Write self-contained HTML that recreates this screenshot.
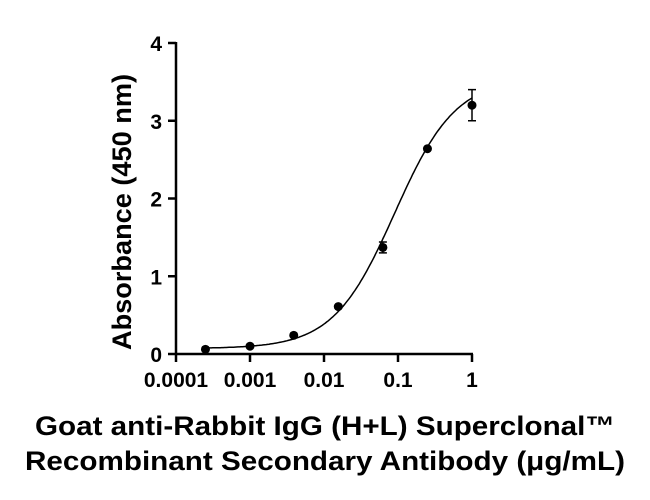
<!DOCTYPE html>
<html><head><meta charset="utf-8"><style>
body{margin:0;background:#fff;}
svg{display:block;font-family:"Liberation Sans",Arial,sans-serif;font-weight:bold;}
</style></head><body>
<svg width="650" height="500">
<g id="g"></g>
</svg>
<script>
const concs=[0.00025,0.001,0.0039,0.0156,0.0625,0.25,1];
const absorb=[0.06,0.10,0.24,0.61,1.37,2.64,3.20];
const errs=[0.01,0.01,0.01,0.02,0.07,0.02,0.2];
const fitParams=[0.07,3.55,0.09,1.05];
const yTicks=[0,1,2,3,4];
const xTicks=[0.0001,0.001,0.01,0.1,1];
const xTickLabels=["0.0001","0.001","0.01","0.1","1"];
const ns="http://www.w3.org/2000/svg";
const g=document.getElementById('g');
const X0=176,Y0=354,PXD=74,PXU=77.75;
const xs=v=>X0+(Math.log10(v)+4)*PXD;
const ys=v=>Y0-v*PXU;
function mk(t,a,p){const e=document.createElementNS(ns,t);for(const k in a)e.setAttribute(k,a[k]);(p||g).appendChild(e);return e;}
let e;
e=mk('line',{x1:X0,y1:ys(4)-1,x2:X0,y2:Y0,stroke:'#000','stroke-width':2.5});


e=mk('line',{x1:X0,y1:Y0,x2:xs(1)+1,y2:Y0,stroke:'#000','stroke-width':2.5});


yTicks.forEach(v=>{
 e=mk('line',{x1:X0-8,y1:ys(v),x2:X0,y2:ys(v),stroke:'#000','stroke-width':2.5});
 
 
 e=mk('text',{x:X0-14,y:ys(v)+8,'text-anchor':'end','font-size':21});
 e.textContent=v;
 
 
});
xTicks.forEach((v,i)=>{
 e=mk('line',{x1:xs(v),y1:Y0,x2:xs(v),y2:Y0+8,stroke:'#000','stroke-width':2.5});
 
 
 e=mk('text',{x:xs(v),y:Y0+33,'text-anchor':'middle','font-size':21});
 e.textContent=xTickLabels[i];
 
 
});
const [b,t,ec,h]=fitParams;
let d='';
for(let l=Math.log10(concs[0]);l<=0.0001;l+=0.02){
 const v=b+(t-b)/(1+Math.pow(Math.pow(10,l)/ec,-h));
 d+=(d?'L':'M')+(X0+(l+4)*PXD).toFixed(1)+','+ys(v).toFixed(1);
}
e=mk('path',{d:d,fill:'none',stroke:'#000','stroke-width':1.5});


concs.forEach((c,i)=>{
 const x=xs(c);
 if(errs[i]>0.03){
  e=mk('path',{d:`M${x},${ys(absorb[i]+errs[i])}V${ys(absorb[i]-errs[i])}M${x-4},${ys(absorb[i]+errs[i])}h8M${x-4},${ys(absorb[i]-errs[i])}h8`,stroke:'#000','stroke-width':1.5,fill:'none'});
  
  
 }
 e=mk('circle',{cx:x,cy:ys(absorb[i]),r:4.5,fill:'#000'});
 
 
});
e=mk('text',{x:0,y:0,'text-anchor':'middle','font-size':27,textLength:276,lengthAdjust:'spacingAndGlyphs',transform:`translate(131,212) rotate(-90)`});
e.textContent='Absorbance (450 nm)';


e=mk('text',{x:325,y:435,'text-anchor':'middle','font-size':27,textLength:580,lengthAdjust:'spacingAndGlyphs'});
e.textContent='Goat anti-Rabbit IgG (H+L) Superclonal™';


e=mk('text',{x:325,y:470,'text-anchor':'middle','font-size':27,textLength:600,lengthAdjust:'spacingAndGlyphs'});
e.textContent='Recombinant Secondary Antibody (μg/mL)';


</script>
</body></html>
